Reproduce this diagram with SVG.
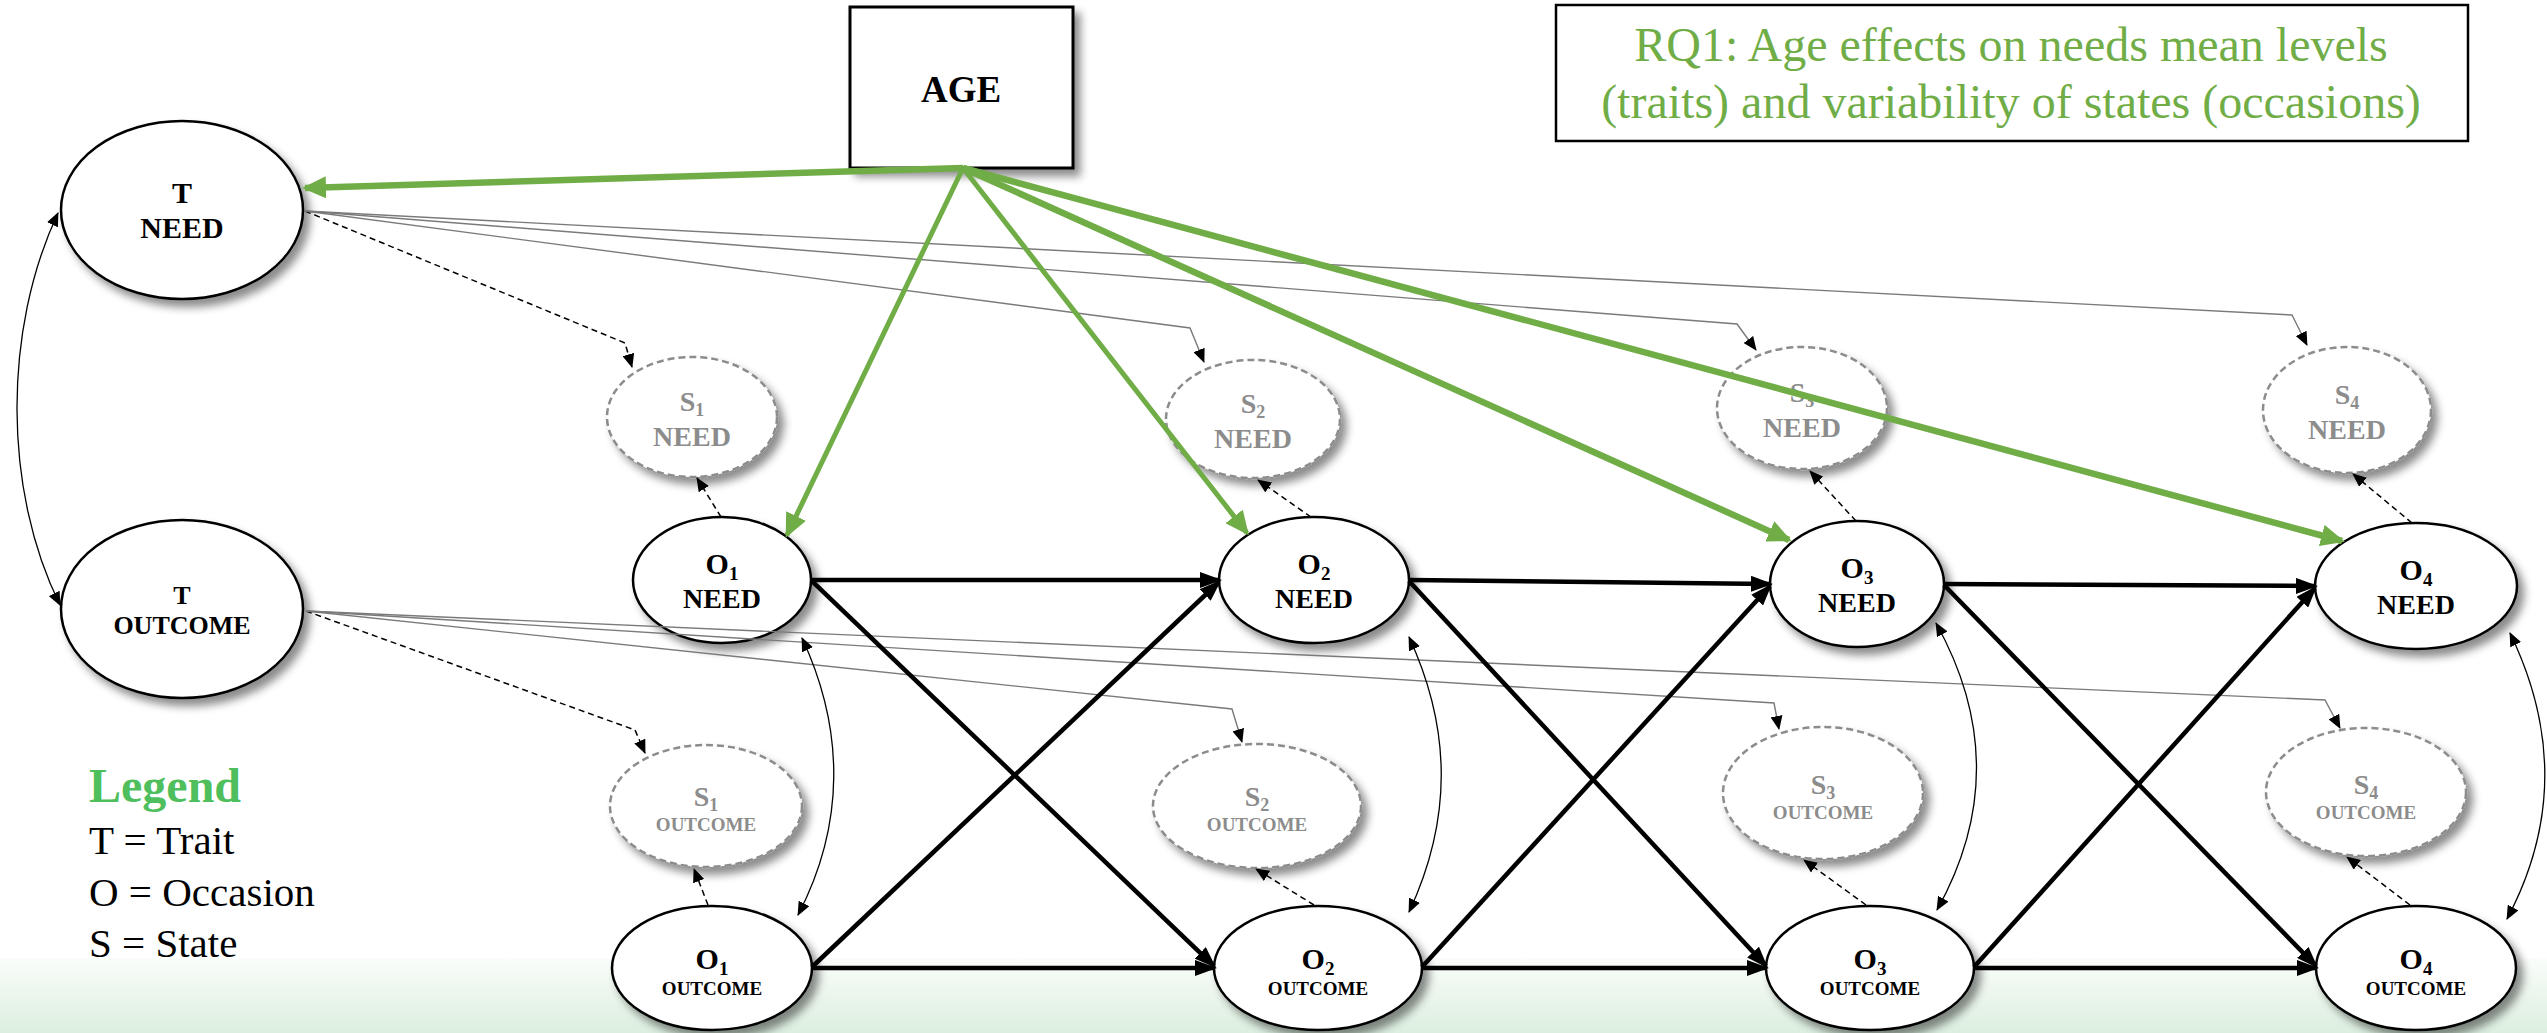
<svg xmlns="http://www.w3.org/2000/svg" width="2547" height="1033" viewBox="0 0 2547 1033">
<defs>
<linearGradient id="band" x1="0" y1="0" x2="0" y2="1">
<stop offset="0" stop-color="#fafdfa"/>
<stop offset="1" stop-color="#dcefdf"/>
</linearGradient>
<filter id="sh" x="-20%" y="-20%" width="150%" height="150%">
<feDropShadow dx="6" dy="7" stdDeviation="4" flood-color="#000" flood-opacity="0.45"/>
</filter>
<marker id="ah-big" markerUnits="userSpaceOnUse" markerWidth="22" markerHeight="16" refX="19" refY="8" orient="auto">
<path d="M0,0 L22,8 L0,16 z" fill="#000"/>
</marker>
<marker id="ah-green" markerUnits="userSpaceOnUse" markerWidth="24" markerHeight="22" refX="21" refY="11" orient="auto">
<path d="M0,0 L24,11 L0,22 z" fill="#70ad47"/>
</marker>
<marker id="ah-small" markerUnits="userSpaceOnUse" markerWidth="14" markerHeight="12" refX="13" refY="6" orient="auto-start-reverse">
<path d="M0,0 L14,6 L0,12 z" fill="#000"/>
</marker>
</defs>
<style>
.node-o{fill:#fff;stroke:#000;stroke-width:2.5;filter:url(#sh)}
.node-s{fill:#fff;stroke:#8c8c8c;stroke-width:2.5;stroke-dasharray:7 4;filter:url(#sh)}
.box{fill:#fff;stroke:#000;stroke-width:3}
.lbl{font-family:"Liberation Serif","Times New Roman",serif;font-weight:bold;text-anchor:middle;fill:#000}
.lbl-s{font-family:"Liberation Serif","Times New Roman",serif;font-weight:bold;text-anchor:middle;fill:#8c8c8c}
.rq{font-family:"Liberation Serif","Times New Roman",serif;font-size:48px;fill:#70ad47;text-anchor:middle}
.leg{font-family:"Liberation Serif","Times New Roman",serif;font-size:41px;fill:#000}
.c-thick{fill:none;stroke:#000;stroke-width:4.5;marker-end:url(#ah-big)}
.c-green{fill:none;stroke:#70ad47;stroke-width:5;marker-end:url(#ah-green)}
.c-green-w{stroke-width:6.5}
.c-gray{fill:none;stroke:#7a7a7a;stroke-width:1.4;marker-end:url(#ah-small)}
.c-dash{fill:none;stroke:#000;stroke-width:1.5;stroke-dasharray:6 4;marker-end:url(#ah-small)}
.c-curve{fill:none;stroke:#000;stroke-width:1.3;marker-start:url(#ah-small);marker-end:url(#ah-small)}
</style>
<rect x="0" y="0" width="2547" height="1033" fill="#fff"/>
<rect x="0" y="958" width="2547" height="75" fill="url(#band)"/>

<g id="age">
<rect class="box" x="850" y="7" width="223" height="161" filter="url(#sh)"/>
<text class="lbl" x="961" y="102" font-size="37">AGE</text>
</g>
<g id="rq1">
<rect x="1556" y="5" width="912" height="136" fill="#fff" stroke="#000" stroke-width="2.5"/>
<text class="rq" x="2011" y="61">RQ1: Age effects on needs mean levels</text>
<text class="rq" x="2011" y="118">(traits) and variability of states (occasions)</text>
</g>
<g id="legend">
<text x="89" y="802" font-family="Liberation Serif, Times New Roman, serif" font-weight="bold" font-size="48" fill="#4fbf5e">Legend</text>
<text class="leg" x="89" y="854">T = Trait</text>
<text class="leg" x="89" y="906">O = Occasion</text>
<text class="leg" x="89" y="957">S = State</text>
</g>

<g id="t-need">
<ellipse class="node-o" cx="182" cy="210" rx="121" ry="89"/>
<text class="lbl" x="182" y="203" font-size="30">T</text>
<text class="lbl" x="182" y="238" font-size="30">NEED</text>
</g>
<g id="t-outcome">
<ellipse class="node-o" cx="182" cy="609" rx="121" ry="89"/>
<text class="lbl" x="182" y="604" font-size="26">T</text>
<text class="lbl" x="182" y="634" font-size="26">OUTCOME</text>
</g>

<g id="s1-need">
<ellipse class="node-s" cx="692" cy="417" rx="85" ry="60"/>
<text class="lbl-s" x="692" y="411" font-size="28">S<tspan font-size="18" dy="5">1</tspan></text>
<text class="lbl-s" x="692" y="446" font-size="28">NEED</text>
</g>
<g id="s2-need">
<ellipse class="node-s" cx="1253" cy="419" rx="87" ry="59"/>
<text class="lbl-s" x="1253" y="413" font-size="28">S<tspan font-size="18" dy="5">2</tspan></text>
<text class="lbl-s" x="1253" y="448" font-size="28">NEED</text>
</g>
<g id="s3-need">
<ellipse class="node-s" cx="1802" cy="408" rx="85" ry="61"/>
<text class="lbl-s" x="1802" y="402" font-size="28">S<tspan font-size="18" dy="5">3</tspan></text>
<text class="lbl-s" x="1802" y="437" font-size="28">NEED</text>
</g>
<g id="s4-need">
<ellipse class="node-s" cx="2347" cy="410" rx="84" ry="63"/>
<text class="lbl-s" x="2347" y="404" font-size="28">S<tspan font-size="18" dy="5">4</tspan></text>
<text class="lbl-s" x="2347" y="439" font-size="28">NEED</text>
</g>

<g id="o1-need">
<ellipse class="node-o" cx="722" cy="580" rx="89" ry="63"/>
<text class="lbl" x="722" y="574" font-size="30">O<tspan font-size="19" dy="6">1</tspan></text>
<text class="lbl" x="722" y="608" font-size="28">NEED</text>
</g>
<g id="o2-need">
<ellipse class="node-o" cx="1314" cy="580" rx="95" ry="63"/>
<text class="lbl" x="1314" y="574" font-size="30">O<tspan font-size="19" dy="6">2</tspan></text>
<text class="lbl" x="1314" y="608" font-size="28">NEED</text>
</g>
<g id="o3-need">
<ellipse class="node-o" cx="1857" cy="584" rx="87" ry="63"/>
<text class="lbl" x="1857" y="578" font-size="30">O<tspan font-size="19" dy="6">3</tspan></text>
<text class="lbl" x="1857" y="612" font-size="28">NEED</text>
</g>
<g id="o4-need">
<ellipse class="node-o" cx="2416" cy="586" rx="101" ry="63"/>
<text class="lbl" x="2416" y="580" font-size="30">O<tspan font-size="19" dy="6">4</tspan></text>
<text class="lbl" x="2416" y="614" font-size="28">NEED</text>
</g>

<g id="s1-outcome">
<ellipse class="node-s" cx="706" cy="806" rx="96" ry="61"/>
<text class="lbl-s" x="706" y="806" font-size="28">S<tspan font-size="18" dy="5">1</tspan></text>
<text class="lbl-s" x="706" y="831" font-size="19">OUTCOME</text>
</g>
<g id="s2-outcome">
<ellipse class="node-s" cx="1257" cy="806" rx="104" ry="62"/>
<text class="lbl-s" x="1257" y="806" font-size="28">S<tspan font-size="18" dy="5">2</tspan></text>
<text class="lbl-s" x="1257" y="831" font-size="19">OUTCOME</text>
</g>
<g id="s3-outcome">
<ellipse class="node-s" cx="1823" cy="793" rx="100" ry="66"/>
<text class="lbl-s" x="1823" y="794" font-size="28">S<tspan font-size="18" dy="5">3</tspan></text>
<text class="lbl-s" x="1823" y="819" font-size="19">OUTCOME</text>
</g>
<g id="s4-outcome">
<ellipse class="node-s" cx="2366" cy="792" rx="100" ry="64"/>
<text class="lbl-s" x="2366" y="794" font-size="28">S<tspan font-size="18" dy="5">4</tspan></text>
<text class="lbl-s" x="2366" y="819" font-size="19">OUTCOME</text>
</g>

<g id="o1-outcome">
<ellipse class="node-o" cx="712" cy="968" rx="100" ry="62"/>
<text class="lbl" x="712" y="969" font-size="30">O<tspan font-size="19" dy="6">1</tspan></text>
<text class="lbl" x="712" y="995" font-size="19">OUTCOME</text>
</g>
<g id="o2-outcome">
<ellipse class="node-o" cx="1318" cy="968" rx="104" ry="62"/>
<text class="lbl" x="1318" y="969" font-size="30">O<tspan font-size="19" dy="6">2</tspan></text>
<text class="lbl" x="1318" y="995" font-size="19">OUTCOME</text>
</g>
<g id="o3-outcome">
<ellipse class="node-o" cx="1870" cy="968" rx="104" ry="62"/>
<text class="lbl" x="1870" y="969" font-size="30">O<tspan font-size="19" dy="6">3</tspan></text>
<text class="lbl" x="1870" y="995" font-size="19">OUTCOME</text>
</g>
<g id="o4-outcome">
<ellipse class="node-o" cx="2416" cy="968" rx="100" ry="62"/>
<text class="lbl" x="2416" y="969" font-size="30">O<tspan font-size="19" dy="6">4</tspan></text>
<text class="lbl" x="2416" y="995" font-size="19">OUTCOME</text>
</g>

<g id="connectors">
<!-- trait to state loadings -->
<path class="c-dash" d="M305,211 L625,343 L632,367"/>
<path class="c-gray" d="M305,211 L1190,328 L1204,362"/>
<path class="c-gray" d="M305,211 L1737,324 L1756,350"/>
<path class="c-gray" d="M305,211 L2292,315 L2307,345"/>
<path class="c-dash" d="M306,611 L635,730 L645,753"/>
<path class="c-gray" d="M306,611 L1232,709 L1242,742"/>
<path class="c-gray" d="M306,611 L1774,703 L1779,729"/>
<path class="c-gray" d="M306,611 L2325,700 L2340,728"/>
<!-- occasion to state -->
<path class="c-dash" d="M721,517 L697,478"/>
<path class="c-dash" d="M1311,517 L1258,480"/>
<path class="c-dash" d="M1856,521 L1810,471"/>
<path class="c-dash" d="M2412,523 L2353,474"/>
<path class="c-dash" d="M708,905 L694,869"/>
<path class="c-dash" d="M1314,905 L1256,869"/>
<path class="c-dash" d="M1866,905 L1804,860"/>
<path class="c-dash" d="M2410,905 L2347,857"/>
<!-- correlations -->
<path class="c-curve" d="M58,213 C3,330 3,490 60,605"/>
<path class="c-curve" d="M802,638 C845,730 845,825 798,915"/>
<path class="c-curve" d="M1409,637 C1452,730 1452,820 1409,912"/>
<path class="c-curve" d="M1936,623 C1990,720 1990,815 1937,910"/>
<path class="c-curve" d="M2510,633 C2557,730 2557,825 2507,919"/>
<!-- autoregressive and cross-lagged -->
<path class="c-thick" d="M812,580 L1219,580"/>
<path class="c-thick" d="M1409,580 L1770,584"/>
<path class="c-thick" d="M1944,584 L2315,586"/>
<path class="c-thick" d="M812,968 L1214,968"/>
<path class="c-thick" d="M1422,968 L1766,968"/>
<path class="c-thick" d="M1974,968 L2316,968"/>
<path class="c-thick" d="M812,581 L1214,966"/>
<path class="c-thick" d="M812,967 L1219,582"/>
<path class="c-thick" d="M1409,581 L1766,966"/>
<path class="c-thick" d="M1422,967 L1770,586"/>
<path class="c-thick" d="M1944,585 L2316,966"/>
<path class="c-thick" d="M1974,967 L2315,588"/>
<!-- age effects -->
<path class="c-green c-green-w" d="M963,168 L305,188"/>
<path class="c-green" d="M963,168 L787,535"/>
<path class="c-green" d="M963,168 L1247,533"/>
<path class="c-green c-green-w" d="M963,168 L1789,540"/>
<path class="c-green c-green-w" d="M963,168 L2342,541"/>
</g>
</svg>
